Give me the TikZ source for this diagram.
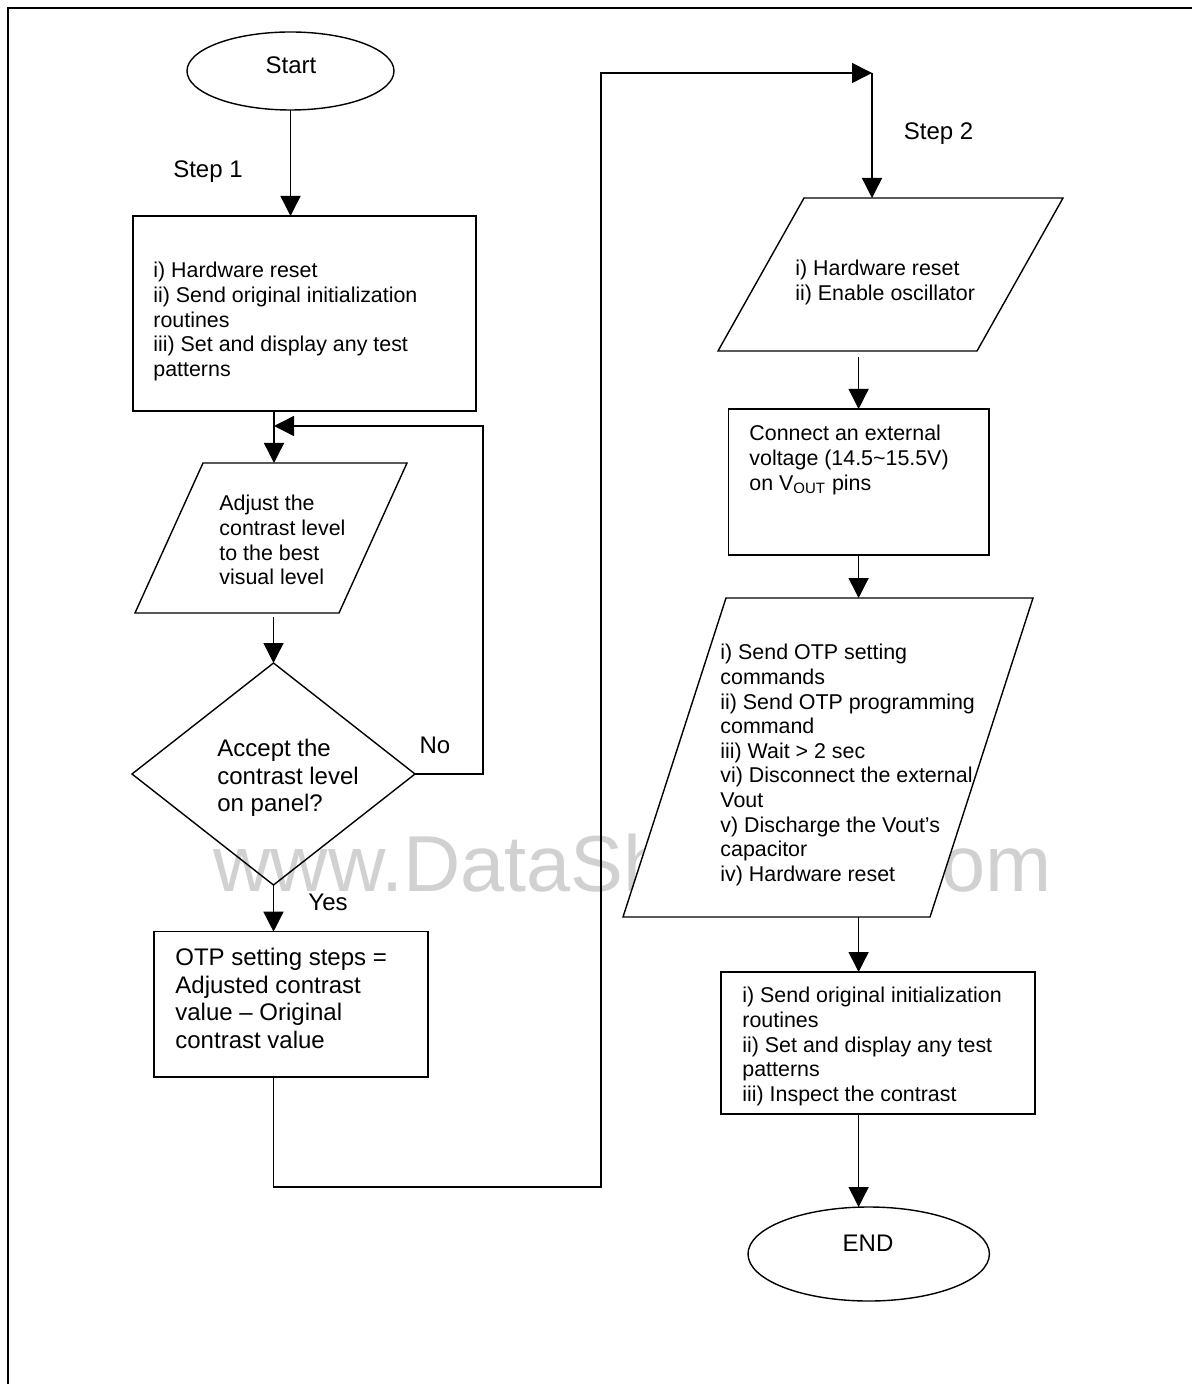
\documentclass[tikz,border=0pt]{standalone}
\usepackage{fontspec}
\setmainfont{Liberation Sans}
\usetikzlibrary{arrows.meta,shapes.geometric}
\tikzset{
  ln/.style={line width=0.7pt},
  arr/.style={ln, -{Triangle[length=10pt,width=10pt]}},
  bb/.style={inner sep=0pt, outer sep=0pt, draw=none, rectangle},
  boxn/.style={bb, draw, ln},
  elln/.style={ellipse, inner sep=0pt, outer sep=0pt, draw, ln},
  txt/.style={inner sep=0pt, anchor=north west, align=left, font=\fontsize{10.7}{12.3}\selectfont},
  txtb/.style={inner sep=0pt, anchor=north west, align=left, font=\fontsize{12}{13.75}\selectfont},
  lab/.style={inner sep=0pt, font=\fontsize{12}{14}\selectfont},
}
\begin{document}
\begin{tikzpicture}[x=0.5pt, y=-0.5pt]
\useasboundingbox (0,0) rectangle (1191,1384);
% frame
\draw[line width=1pt] (8,1400) -- (8,8) -- (1200,8);

% watermark
\node[anchor=base west, inner sep=0pt, text=black!18, font=\fontsize{39.7}{40}\selectfont] (wm) at (213,891) {www.DataSheet4U.com};

% ---- left column ----
\node[elln, minimum width=103.5pt, minimum height=39pt] (start) at (290.5,71) {};
\node[lab] (tstart) at (291,65) {Start};
\node[lab] (step1) at (208,172) {Step 1};

\node[boxn, minimum width=171.5pt, minimum height=97.5pt] (box1) at (304.5,313.5) {};
\node[txt] (tbox1) at (153,262) {i) Hardware reset\\ii) Send original initialization\\routines\\iii) Set and display any test\\patterns};

\node[bb, minimum width=136pt, minimum height=75pt] (p1) at (271,538) {};
\draw[ln] ([xshift=34pt]p1.north west) -- (p1.north east) -- ([xshift=-34pt]p1.south east) -- (p1.south west) -- cycle;
\node[txt] (tp1) at (219,495) {Adjust the\\contrast level\\to the best\\visual level};

\node[bb, minimum width=141.5pt, minimum height=111pt] (dia) at (273.5,774) {};
\draw[ln] (dia.north) -- (dia.east) -- (dia.south) -- (dia.west) -- cycle;
\node[txtb] (tdia) at (217,739) {Accept the\\contrast level\\on panel?};
\node[lab] (no) at (435,745) {No};
\node[lab] (yes) at (328,902) {Yes};

\node[boxn, minimum width=137pt, minimum height=72.7pt] (box2) at (291,1004.4) {};
\node[txtb] (tbox2) at (175,948) {OTP setting steps =\\Adjusted contrast\\value – Original\\contrast value};

\coordinate (j1) at (274,426);
\coordinate (nr) at (483,426);
\coordinate (corner) at (601,1187);
\coordinate (j2) at (872,73);

% ---- right column ----
\node[lab] (step2) at (938.5,134) {Step 2};

\node[bb, minimum width=172.5pt, minimum height=76.5pt] (p2) at (890.5,274.5) {};
\draw[ln] ([xshift=43pt]p2.north west) -- (p2.north east) -- ([xshift=-43pt]p2.south east) -- (p2.south west) -- cycle;
\node[txt] (tp2) at (795,260) {i) Hardware reset\\ii) Enable oscillator};

\node[boxn, minimum width=130.2pt, minimum height=73pt] (cbox) at (858.6,482) {};
\node[txt] (tcbox) at (749,425) {Connect an external\\voltage (14.5\textasciitilde 15.5V)\\on V\textsubscript{OUT} pins};

\node[bb, minimum width=205pt, minimum height=159.5pt] (p3) at (828,757.5) {};
\draw[ln, fill=white] ([xshift=51.5pt]p3.north west) -- (p3.north east) -- ([xshift=-51.5pt]p3.south east) -- (p3.south west) -- cycle;
\node[txt] (tp3) at (720,644) {i) Send OTP setting\\commands\\ii) Send OTP programming\\command\\iii) Wait > 2 sec\\vi) Disconnect the external\\Vout\\v) Discharge the Vout’s\\capacitor\\iv) Hardware reset};

\node[boxn, minimum width=157pt, minimum height=71pt] (lbox) at (878,1043) {};
\node[txt] (tlbox) at (742,987) {i) Send original initialization\\routines\\ii) Set and display any test\\patterns\\iii) Inspect the contrast};

\node[elln, minimum width=120.7pt, minimum height=47pt] (end) at (868.7,1254) {};
\node[lab] (tend) at (868,1243) {END};

% ---- connectors ----
\draw[arr] (start.south) -- (start.south |- box1.north);
\draw[ln] (box1.south -| j1) -- (j1);
\draw[arr] (j1) -- (j1 |- p1.north);
\draw[arr] ([yshift=-2pt]p1.south -| dia.north) -- (dia.north);
\draw[arr] (dia.east) -| (nr) -- (j1);
\draw[arr] (dia.south) -- (dia.south |- box2.north);
\draw[arr] (dia.south |- box2.south) |- (corner) |- (j2);
\draw[arr] (j2) -- (j2 |- p2.north);
\draw[arr] ([yshift=-3pt]p2.south -| cbox.north) -- (cbox.north);
\draw[arr] (cbox.south) -- (cbox.south |- p3.north);
\draw[arr] (cbox.south |- p3.south) -- (cbox.south |- lbox.north);
\draw[arr] (cbox.south |- lbox.south) -- (cbox.south |- end.north);
\end{tikzpicture}
\end{document}
